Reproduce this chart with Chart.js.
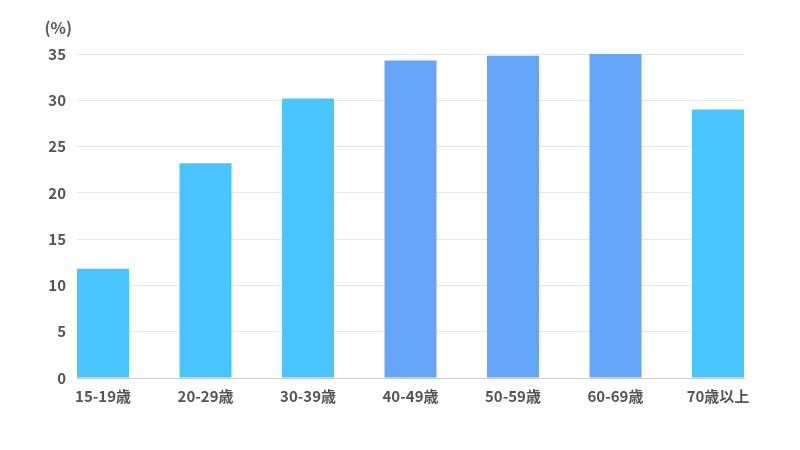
<!DOCTYPE html>
<html><head><meta charset="utf-8">
<script src="https://cdn.jsdelivr.net/npm/chart.js@4"></script>
<style>html,body{margin:0;padding:0;background:#fff}#w{width:800px;height:450px}</style>
</head><body><div id="w"><canvas id="c"></canvas></div>
<script>
const categories = ["15-19歳","20-29歳","30-39歳","40-49歳","50-59歳","60-69歳","70歳以上"];
const values = [11.8, 23.2, 30.2, 34.3, 34.8, 35.0, 29.0];
const barColors = ["#48C4FF","#48C4FF","#48C4FF","#65A5FA","#65A5FA","#65A5FA","#48C4FF"];
const yTicks = [0,5,10,15,20,25,30,35];
const unitLabel = "(%)";

const FONT = "'Noto Sans CJK JP','Noto Sans',sans-serif";
const half = 0.2537;

const unitPlugin = {
  id: 'unit',
  afterDraw(chart) {
    const ctx = chart.ctx;
    const y = chart.scales.y;
    ctx.save();
    ctx.font = "bold 16px " + FONT;
    ctx.fillStyle = "#555";
    ctx.textAlign = "right";
    ctx.textBaseline = "middle";
    ctx.fillText(unitLabel, y.right - 5, 28);
    ctx.restore();
  }
};

new Chart(document.getElementById('c'), {
  type: 'bar',
  data: {
    datasets: [{
      data: values.map((v, i) => ({x: i, y: v})),
      backgroundColor: barColors,
      borderWidth: 0,
      barPercentage: 1,
      categoryPercentage: 0.507
    }]
  },
  options: {
    responsive: true,
    maintainAspectRatio: false,
    animation: false,
    layout: {padding: {left: 0, right: 56, top: 54, bottom: 30}},
    plugins: {legend: {display: false}, tooltip: {enabled: false}},
    scales: {
      x: {
        type: 'linear',
        offset: false,
        min: -half,
        max: categories.length - 1 + half,
        afterBuildTicks(s) { s.ticks = categories.map((c, i) => ({value: i})); },
        afterFit(s) { s.height = 42; },
        grid: {display: false, drawTicks: false},
        border: {display: true, color: '#cccccc', width: 1},
        ticks: {
          padding: 9,
          autoSkip: false,
          maxRotation: 0,
          color: '#555',
          font: {family: FONT, size: 15, weight: 'bold'},
          callback: (v) => categories[v] ?? ''
        }
      },
      y: {
        min: 0,
        max: 35,
        afterBuildTicks(s) { s.ticks = yTicks.map(v => ({value: v})); },
        afterFit(s) { s.width = 77; },
        grid: {color: '#e6e6e6', drawTicks: false},
        border: {display: false},
        ticks: {
          padding: 11,
          color: '#555',
          font: {family: FONT, size: 15, weight: 'bold'}
        }
      }
    }
  },
  plugins: [unitPlugin]
});
</script>
</body></html>
